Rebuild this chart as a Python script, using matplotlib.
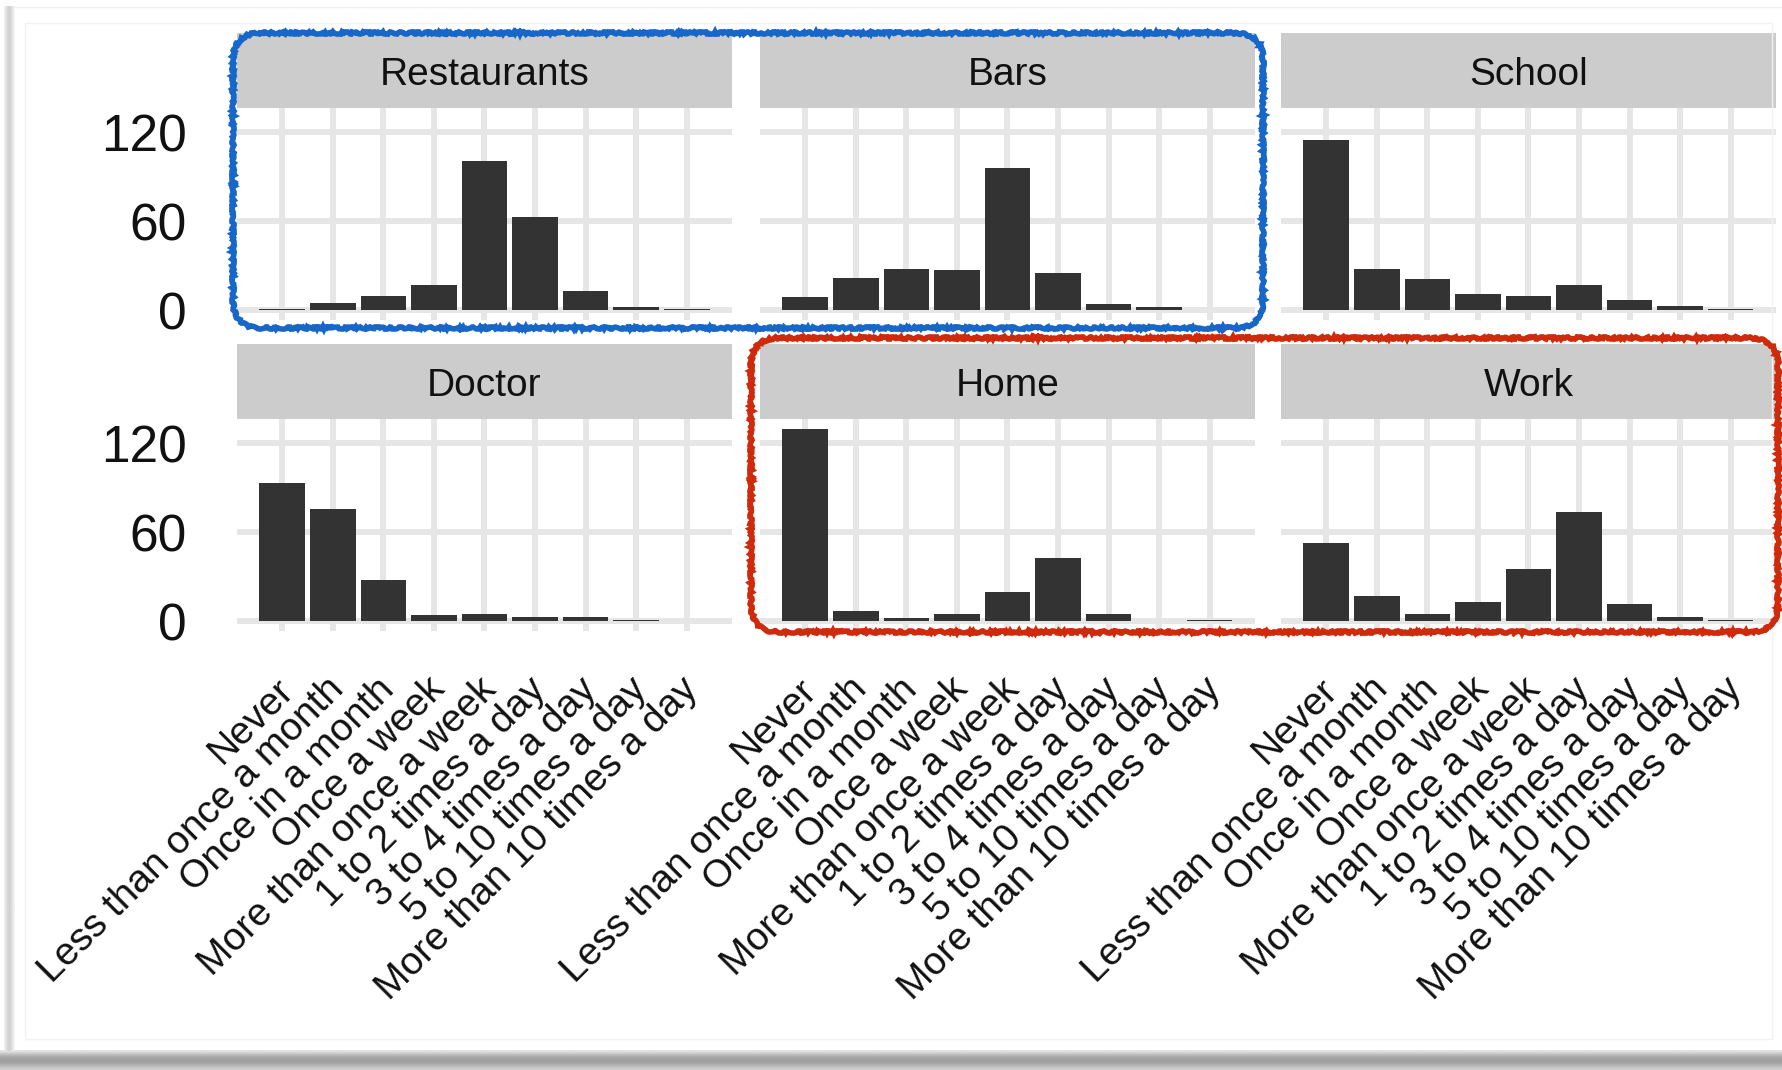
import numpy as np
import matplotlib.pyplot as plt
import matplotlib.transforms as mtransforms
from matplotlib.patches import FancyBboxPatch, Rectangle

plt.rcParams['font.family'] = ['Liberation Sans', 'DejaVu Sans']

# Frequency categories (x axis) and the place shown in each facet
categories = ["Never", "Less than once a month", "Once in a month", "Once a week",
              "More than once a week", "1 to 2 times a day", "3 to 4 times a day",
              "5 to 10 times a day", "More than 10 times a day"]
places = ["Restaurants", "Bars", "School", "Doctor", "Home", "Work"]

# Counts per category for each place
restaurants = [1, 5, 10, 17, 101, 63, 13, 2, 1]
bars = [9, 22, 28, 27, 96, 25, 4, 2, 0]
school = [115, 28, 21, 11, 10, 17, 7, 3, 1]
doctor = [93, 76, 28, 4, 5, 3, 3, 1, 0]
home = [130, 7, 2, 5, 20, 43, 5, 0, 1]
work = [53, 17, 5, 13, 35, 74, 12, 3, 1]
y_ticks = [0, 60, 120]

counts = [restaurants, bars, school, doctor, home, work]

W, H = 1783, 1070
fig = plt.figure(figsize=(W / 100, H / 100), dpi=100)
fig.patch.set_facecolor('white')


def frac(x0, y0, x1, y1):
    return [x0 / W, 1 - y1 / H, (x1 - x0) / W, (y1 - y0) / H]


col_x = [(237, 732), (760, 1255), (1281, 1776)]
panel_y = [(108, 320), (419, 631)]
strip_y = [(33, 108), (344, 419)]

bar_w = 0.9
n = len(categories)
ymax = max(max(c) for c in counts)
ylim = (-0.05 * ymax, 1.05 * ymax)
# continuous range of the bars, widened by 5% on each side
span = (n - 1) + bar_w
xlim = (-bar_w / 2 - 0.05 * span, (n - 1) + bar_w / 2 + 0.05 * span)
xpos = np.arange(n)

label_shift = mtransforms.ScaledTranslation(-7 / 100, 0, fig.dpi_scale_trans)

for i, (place, vals) in enumerate(zip(places, counts)):
    r, c = divmod(i, 3)
    x0, x1 = col_x[c]
    y0, y1 = panel_y[r]
    ax = fig.add_axes(frac(x0, y0, x1, y1))
    ax.set_facecolor('white')
    ax.set_axisbelow(True)
    ax.grid(True, color='#E6E6E6', linewidth=4.3)
    for s in ax.spines.values():
        s.set_visible(False)
    v = np.array(vals, dtype=float)
    keep = v > 0
    ax.bar(xpos[keep], v[keep], width=bar_w, color='#333333', zorder=2)
    ax.set_xlim(*xlim)
    ax.set_ylim(*ylim)
    ax.set_xticks(xpos)
    ax.set_yticks(y_ticks)
    ax.tick_params(length=0)
    if c == 0:
        ax.set_yticklabels([str(t) for t in y_ticks], fontsize=37, color='#111111')
        ax.tick_params(axis='y', pad=36)
    else:
        ax.set_yticklabels([])
    if r == 1:
        ax.set_xticklabels(categories, rotation=45, ha='right', va='top',
                           rotation_mode='anchor', fontsize=28, color='#111111')
        ax.tick_params(axis='x', pad=29)
        for lab in ax.get_xticklabels():
            lab.set_transform(lab.get_transform() + label_shift)
    else:
        ax.set_xticklabels([])

    sy0, sy1 = strip_y[r]
    sax = fig.add_axes(frac(x0, sy0, x1, sy1))
    sax.set_facecolor('#CCCCCC')
    sax.set_xticks([])
    sax.set_yticks([])
    for s in sax.spines.values():
        s.set_visible(False)
    sax.text(0.5, 0.44, place, transform=sax.transAxes, ha='center', va='center',
             fontsize=28, color='#111111')

# Overlay in pixel units for the card frame and the highlight outlines
ov = fig.add_axes([0, 0, 1, 1], facecolor='none')
ov.set_xlim(0, W)
ov.set_ylim(H, 0)
ov.axis('off')

# bottom drop shadow of the card
shade = np.array([0.88, 0.76, 0.66, 0.62, 0.64, 0.72, 0.80])[:, None] * np.ones((1, 40))
ov.imshow(shade, cmap='gray', vmin=0, vmax=1, extent=(0, W, 1070, 1050),
          aspect='auto', interpolation='bilinear', zorder=0)
# left edge of the card
edge = np.array([0.93, 0.84, 0.82, 0.86, 0.95])[None, :] * np.ones((10, 1))
ov.imshow(edge, cmap='gray', vmin=0, vmax=1, extent=(4, 15, 1051, 6),
          aspect='auto', interpolation='bilinear', zorder=0)
ov.plot([15, W], [6.5, 6.5], color='#F0F0F0', lw=1, zorder=0)
ov.add_patch(Rectangle((25, 23), 1747, 1016, fill=False, ec='#F2F2F2', lw=1, zorder=0))

# hand-drawn style highlight outlines
blue = FancyBboxPatch((233, 33), 1263 - 233, 328 - 33,
                      boxstyle='round,pad=0,rounding_size=28',
                      fill=False, ec='#1767C9', lw=4.0, zorder=5)
red = FancyBboxPatch((751, 338), 1778 - 751, 632 - 338,
                     boxstyle='round,pad=0,rounding_size=28',
                     fill=False, ec='#CF2A0C', lw=4.0, zorder=5)
for p in (blue, red):
    p.set_sketch_params(scale=1.1, length=6, randomness=8)
    ov.add_patch(p)

fig.savefig('out.png', dpi=100, facecolor='white')
